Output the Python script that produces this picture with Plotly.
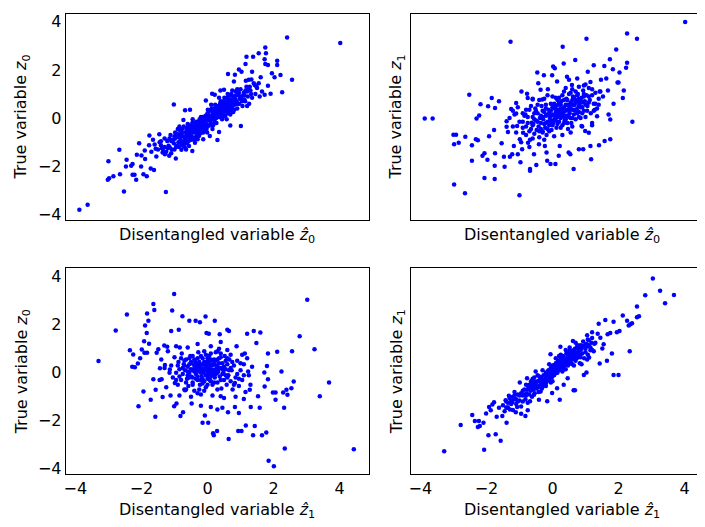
import plotly.graph_objects as go

# ---------------- data ----------------
# top-left: x = disentangled z^0, y = true z0
tl_points = [
    (-3.88,-3.81),(-3.63,-3.60),(-3.02,-2.56),(-3.00,-1.79),(-2.98,-2.50),(-2.85,-2.42),(-2.65,-2.33),(-2.67,-1.32),
    (-2.53,-3.05),(-2.45,-1.73),(-2.47,-2.01),(-2.31,-1.98),(-2.27,-2.35),(-2.21,-2.35),(-2.16,-2.56),(-2.27,-1.91),
    (-2.14,-1.52),(-2.07,-1.05),(-2.01,-2.01),(-1.94,-2.33),(-1.89,-1.70),(-1.84,-2.42),(-1.76,-0.72),(-1.77,-1.13),
    (-1.72,-2.09),(-1.62,-2.16),(-1.57,-1.27),(-1.46,-0.67),(-1.41,-1.13),(-1.36,-1.43),(-1.41,-0.96),(-1.34,-1.37),
    (-1.29,-1.50),(-1.26,-3.07),(-1.16,-1.57),(-1.14,-1.22),(-1.10,-1.46),(-1.02,0.56),(-0.99,-0.86),(-0.96,-1.68),
    (-0.94,-1.16),(-0.89,-0.68),(-0.84,-0.50),(-0.81,-0.95),(-0.79,-1.32),(-0.73,-0.08),(-0.73,-1.16),(-0.68,0.33),
    (-0.65,-0.95),(-0.60,-0.77),(-0.56,-1.16),(-0.53,0.35),(-0.46,-1.37),(-0.38,-1.02),(-0.30,-0.88),(-0.20,-0.61),
    (-0.13,-0.88),(-0.05,0.73),(0.07,-0.74),(0.14,1.01),(0.22,0.97),(0.30,-0.91),(0.35,-0.58),(0.39,1.15),
    (0.44,0.05),(0.50,1.18),(0.62,1.83),(0.69,-0.31),(0.80,1.52),(0.83,1.80),(0.95,2.02),(1.01,-0.33),
    (1.03,1.93),(1.11,0.77),(1.15,2.25),(1.18,2.55),(1.25,1.59),(1.35,1.93),(1.38,2.55),(1.43,1.38),
    (1.48,1.31),(1.55,2.69),(1.58,0.90),(1.61,1.70),(1.73,0.97),(1.75,2.93),(1.77,2.69),(1.73,2.44),
    (1.75,2.25),(1.83,2.21),(1.83,1.34),(1.91,1.01),(1.95,1.86),(2.03,1.70),(2.11,2.38),(2.11,2.21),
    (2.21,1.79),(2.26,1.07),(2.41,3.35),(2.56,1.59),(4.02,3.12),
    (-1.45,-1.0),(-1.38,-1.25),(-1.30,-0.85),(-1.25,-1.4),(-1.22,-0.95),(-1.18,-1.15),(-1.12,-0.7),(-1.08,-1.3),
    (-1.05,-0.9),(-1.02,-1.05),(-0.98,-0.6),(-0.95,-1.2),(-0.92,-0.8),(-0.9,-0.45),(-0.88,-1.0),(-0.85,-0.7),
    (-0.82,-0.9),(-0.8,-0.55),(-0.78,-1.1),(-0.75,-0.75),(-0.72,-0.35),(-0.7,-0.95),(-0.68,-0.6),(-0.66,-0.8),
    (-0.64,-0.45),(-0.62,-1.05),(-0.6,-0.5),(-0.58,-0.7),(-0.56,-0.3),(-0.54,-0.85),(-0.52,-0.55),(-0.5,-0.4),
    (-0.48,-0.75),(-0.46,-0.2),(-0.44,-0.6),(-0.42,-0.45),(-0.4,-0.9),(-0.38,-0.3),(-0.36,-0.55),(-0.34,-0.15),
    (-0.32,-0.7),(-0.3,-0.4),(-0.28,-0.25),(-0.26,-0.5),(-0.24,-0.05),(-0.22,-0.35),(-0.2,-0.6),(-0.18,-0.2),
    (-0.16,-0.4),(-0.14,0.05),(-0.12,-0.3),(-0.1,-0.15),(-0.08,-0.5),(-0.06,0.1),(-0.04,-0.25),(-0.02,-0.05),
    (0.0,-0.35),(0.02,0.15),(0.04,-0.1),(0.06,0.0),(0.08,0.3),(0.1,-0.2),(0.12,0.1),(0.14,-0.05),
    (0.16,0.25),(0.18,0.05),(0.2,0.4),(0.22,-0.15),(0.24,0.2),(0.26,0.0),(0.28,0.35),(0.3,0.15),
    (0.32,0.5),(0.34,0.05),(0.36,0.3),(0.38,0.6),(0.4,0.2),(0.42,0.45),(0.44,-0.05),(0.46,0.35),
    (0.48,0.7),(0.5,0.25),(0.52,0.5),(0.54,0.1),(0.56,0.8),(0.58,0.4),(0.6,0.6),(0.62,0.2),
    (0.64,0.9),(0.66,0.5),(0.68,0.35),(0.7,0.75),(0.72,1.0),(0.74,0.45),(0.76,0.65),(0.78,0.25),
    (0.8,0.9),(0.82,0.55),(0.85,1.1),(0.88,0.7),(0.9,0.4),(0.93,0.95),(0.96,0.6),(1.0,1.2),
    (1.03,0.8),(1.06,0.5),(1.1,1.05),(1.14,0.7),(1.18,1.3),(1.22,0.9),(1.26,0.6),(1.3,1.15),
    (1.35,0.85),(1.4,1.45),(1.45,1.0),
    (-0.35,-0.35),(-0.25,-0.15),(-0.15,-0.25),(-0.05,0.0),(0.05,0.05),(0.15,0.15),(0.25,0.3),(0.35,0.45),
    (0.45,0.2),(0.55,0.55),(-0.55,-0.6),(-0.45,-0.5),(0.1,0.35),(0.2,-0.05),(0.3,0.25),(0.4,0.7),
    (0.6,0.85),(0.7,0.55),(0.0,0.2),(-0.1,-0.4),(-0.2,0.05),(-0.3,-0.6),(-0.6,-0.25),(-0.7,-0.8),
    (-0.8,-0.75),(0.9,1.2),(1.0,0.9),(1.2,1.1),(0.65,0.3),(0.75,1.15),
    (-0.62,-0.4),(-0.5,-0.75),(-0.41,-0.2),(-0.33,-0.5),(-0.27,-0.75),(-0.19,-0.45),(-0.11,-0.05),(-0.03,-0.45),
    (0.03,0.05),(0.09,-0.3),(0.13,0.4),(0.19,0.25),(0.23,0.55),(0.27,-0.2),(0.33,0.35),(0.39,0.05),
    (0.43,0.6),(0.49,0.45),(0.53,0.3),(0.57,0.65),(0.61,1.0),(0.67,0.75),(0.73,0.3),(0.79,0.75),
    (0.87,0.95),(0.97,0.8),(1.08,0.95),(1.16,1.55),(1.28,1.3),(1.5,1.25),(-1.0,-0.75),(-0.9,-1.15),
    (-1.15,-0.85),(-1.3,-1.2),(-0.77,-0.45),(-0.57,-0.95),(-0.47,-0.3),(-0.37,-0.8),(-0.23,-0.55),(-0.13,-0.6),
    (-0.07,-0.2),(0.01,0.35),(0.11,0.55),(0.21,0.15),(0.31,0.05),(0.41,0.45),(0.51,0.85),(0.63,0.5),
    (0.71,0.95),(0.83,0.8),(0.92,0.6),(1.12,0.95),(1.24,1.2),(1.33,1.6),(-1.6,-1.1),(-1.7,-1.4),
    (-1.55,-1.6),(-0.69,-1.2),(0.17,-0.3),(0.47,0.05),
    (-1.2,-1.25),(-1.1,-0.95),(-1.0,-1.3),(-0.93,-0.65),(-0.86,-1.2),(-0.79,-0.65),(-0.71,-1.05),(-0.63,-0.65),
    (-0.55,-0.45),(-0.49,-0.9),(-0.43,-0.35),(-0.37,-0.6),(-0.31,-0.2),(-0.25,-0.7),(-0.21,-0.4),(-0.17,-0.05),
    (-0.09,-0.35),(-0.01,-0.6),(0.05,-0.3),(0.11,0.0),(0.15,-0.45),(0.21,0.3),(0.27,0.5),(0.29,0.05),
    (0.37,0.15),(0.45,0.55),(0.55,0.3),(0.59,0.55),(0.65,0.7),(0.69,0.15),(0.77,0.9),(0.81,0.35),
    (0.89,0.6),(0.95,1.05),(1.05,0.7),(1.15,1.15),(1.32,1.0),(1.55,1.45),(1.65,1.1),(-1.5,-1.3),
    (-1.65,-0.9),(-1.9,-1.35),(-2.0,-1.55),(0.0,0.0),(-0.45,-0.05),(0.35,0.85),(0.58,-0.05),(-0.85,-0.35),
    (1.2,0.5),(-0.65,-1.3),
]

# top-right: x = disentangled z^0, y = true z1
tr_points = [
    (-3.87,-0.02),(-3.63,-0.02),(-3.00,-0.69),(-2.92,-0.69),(-2.98,-1.09),(-2.84,-1.02),(-2.98,-2.76),(-2.65,-3.12),
    (-2.64,-0.78),(-2.52,0.97),(-2.44,-1.13),(-2.44,-1.77),(-2.32,-0.88),(-2.26,-0.92),(-2.30,-0.02),(-2.22,0.11),
    (-2.18,0.57),(-2.12,-1.57),(-2.06,-1.46),(-2.06,-2.49),(-1.97,-1.73),(-1.95,0.49),(-1.92,-0.75),(-1.84,0.84),
    (-1.77,-0.50),(-1.74,0.42),(-1.74,-1.46),(-1.75,-1.98),(-1.75,-2.53),(-1.62,0.70),(-1.54,-1.05),(-1.47,-1.61),
    (-1.45,-2.02),(-1.39,-0.36),(-1.39,-0.13),(-1.35,-0.58),(-1.27,3.17),(-1.29,-1.61),(-1.25,0.38),(-1.22,-1.50),
    (-1.17,-1.16),(-1.10,0.19),(-1.10,0.63),(-1.07,-0.33),(-1.05,-1.50),(-0.99,-0.88),(-0.97,-1.84),(-0.94,1.11),
    (-0.92,-1.29),(-0.89,-0.61),(-1.00,-3.21),(-0.82,0.15),(-0.77,1.01),(-0.75,0.83),(-0.74,-1.02),(-0.68,-2.19),
    (-0.68,-2.12),(-0.63,-0.19),(-0.60,0.77),(-0.56,-1.50),(-0.49,-1.95),(-0.46,1.89),(-0.43,1.45),(-0.41,-1.09),
    (-0.36,1.18),(-0.31,0.77),(-0.26,1.78),(-0.23,-1.16),(-0.18,-1.43),(-0.16,-1.77),(-0.14,1.20),(-0.06,-1.91),
    (-0.01,1.78),(0.02,2.14),(0.07,2.07),(0.09,-1.91),(0.14,1.52),(0.19,-1.57),(0.22,-1.16),(0.31,2.96),
    (0.34,2.27),(0.44,1.72),(0.49,-1.43),(0.50,1.59),(0.54,-1.50),(0.59,1.38),(0.64,-2.12),(0.69,2.41),
    (0.75,1.65),(0.80,-1.29),(0.88,-0.33),(0.93,-1.29),(0.99,-0.54),(1.03,3.30),(1.07,1.93),(1.10,-0.61),
    (1.15,-1.16),(1.17,-1.71),(1.20,-0.30),(1.25,2.20),(1.28,0.35),(1.35,0.08),(1.41,-1.13),(1.43,1.11),
    (1.47,1.59),(1.53,0.90),(1.57,2.16),(1.58,-0.95),(1.63,1.65),(1.68,1.15),(1.70,0.15),(1.74,2.44),
    (1.75,-0.88),(1.75,-0.06),(1.83,2.03),(1.85,0.60),(1.93,2.85),(1.97,1.48),(2.00,1.48),(2.03,1.89),
    (2.13,0.83),(2.16,1.15),(2.23,2.09),(2.26,2.30),(2.26,3.51),(2.42,-0.15),(2.56,3.30),(4.02,3.99),
    (-0.9,-0.4),(-0.85,0.1),(-0.8,-0.7),(-0.75,-0.2),(-0.7,0.35),(-0.68,-0.9),(-0.65,-0.45),(-0.6,0.05),
    (-0.58,-0.25),(-0.55,-0.65),(-0.52,0.4),(-0.5,-0.1),(-0.48,-0.5),(-0.45,0.2),(-0.42,-0.35),(-0.4,-0.8),
    (-0.38,0.0),(-0.35,-0.2),(-0.33,0.5),(-0.3,-0.55),(-0.28,-0.05),(-0.25,0.25),(-0.22,-0.4),(-0.2,0.1),
    (-0.18,-0.7),(-0.15,-0.15),(-0.12,0.35),(-0.1,-0.3),(-0.08,0.0),(-0.05,0.6),(-0.03,-0.5),(0.0,0.15),
    (0.02,-0.2),(0.05,0.4),(0.07,-0.05),(0.1,0.25),(0.12,-0.4),(0.15,0.05),(0.17,0.55),(0.2,-0.15),
    (0.22,0.3),(0.25,0.0),(0.27,0.7),(0.3,-0.3),(0.32,0.2),(0.35,0.45),(0.37,-0.1),(0.4,0.3),
    (0.42,0.8),(0.45,0.1),(0.47,-0.45),(0.5,0.5),(0.52,0.2),(0.55,0.65),(0.57,-0.2),(0.6,0.35),
    (0.62,0.9),(0.65,0.15),(0.67,0.55),(0.7,-0.05),(0.72,0.75),(0.75,0.4),(0.77,1.0),(0.8,0.25),
    (0.82,0.6),(0.85,0.0),(0.88,0.85),(0.9,0.45),(0.93,1.15),(0.95,0.3),(0.98,0.7),(1.0,0.05),
    (1.03,0.95),(1.06,0.5),(1.1,1.25),(1.13,0.75),(1.16,0.2),(1.2,0.95),(1.25,0.6),(1.3,1.05),
    (1.35,0.4),(1.4,0.8),(-1.0,-0.15),(-1.05,0.45),(-1.1,-0.6),(-1.15,0.15),(-1.2,-0.35),(-1.3,0.0),
    (-0.95,-1.0),(-0.7,-1.2),(-0.4,0.75),(-0.6,0.8),(-0.25,-0.9),(0.05,-0.75),(0.3,-0.7),(0.55,-0.6),
    (0.1,0.85),(-0.15,0.95),(0.35,1.1),(0.6,1.2),(0.9,-0.35),(1.2,-0.2),(0.45,0.55),(0.25,0.4),
    (0.15,0.2),(-0.05,0.3),(0.0,-0.1),(0.2,0.65),(0.4,-0.05),(0.65,0.35),(0.75,0.7),(0.8,1.3),
    (1.0,1.4),(1.15,1.5),(0.5,1.0),(0.3,0.95),(-0.2,0.55),(-0.5,0.3),(-0.8,0.35),(-0.3,-0.6),
    (-0.6,-0.3),(-0.45,0.55),(-0.35,0.1),(-0.25,-0.25),(-0.15,0.15),(-0.05,-0.15),(0.05,0.1),(0.1,-0.1),
    (0.15,0.35),(0.2,0.1),(0.25,0.55),(0.3,0.3),(0.35,0.05),(0.4,0.55),(0.45,0.35),(0.5,0.05),
    (0.55,0.4),(0.6,0.75),(0.65,0.55),(0.7,0.3),(0.75,0.95),(0.8,0.5),(0.85,0.75),(0.9,0.2),
    (0.95,0.9),(1.05,0.3),(1.1,0.65),(-0.55,-0.05),(-0.75,0.05),(-0.9,0.2),(-0.2,0.4),(0.0,0.45),
    (0.2,0.85),(-0.1,-0.55),(0.15,-0.25),(0.45,-0.2),(0.6,0.0),(0.8,0.05),(1.25,0.3),(1.45,1.1),
    (0.35,0.75),(0.55,1.05),(-0.35,-0.45),(-0.65,0.5),(0.05,0.6),(0.7,1.1),(0.95,1.0),(1.3,0.6),
    (-0.3,0.3),(0.25,-0.4),
    (-0.7,-0.55),(-0.55,0.2),(-0.4,-0.55),(-0.3,0.05),(-0.2,-0.2),(-0.1,0.2),(0.0,-0.3),(0.1,0.5),
    (0.2,0.35),(0.3,0.1),(0.4,0.1),(0.5,0.3),(0.6,0.55),(0.7,0.65),(0.8,0.8),(0.9,0.65),
    (1.0,0.55),(1.1,0.9),(0.25,0.2),(0.45,0.75),(0.65,0.85),(0.85,0.45),(-0.15,-0.45),(-0.45,-0.15),
    (0.55,0.0),(0.35,-0.2),(0.15,0.75),(-0.05,0.1),(0.75,0.2),(1.2,1.2),(-0.9,-0.15),(-1.2,0.3),
    (-0.6,-0.85),(0.0,0.9),(0.4,1.25),(0.95,1.35),(-0.25,0.8),(1.4,0.55),(0.6,-0.35),(-0.8,-0.35),
]

# bottom-left: x = disentangled z^1, y = true z0
bl_points = [
    (-3.30,0.49),(-2.78,1.76),(-2.44,2.42),(-2.35,0.94),(-2.25,0.76),(-2.28,0.25),(-2.20,0.23),(-2.09,-1.39),
    (-2.11,0.39),(-2.04,0.60),(-1.99,0.97),(-1.94,-0.78),(-1.92,1.31),(-1.89,1.97),(-1.83,2.47),(-1.79,2.17),
    (-1.84,1.65),(-1.91,0.83),(-1.83,0.83),(-1.77,1.21),(-1.72,-1.12),(-1.64,2.86),(-1.61,2.61),(-1.64,-0.27),
    (-1.58,-1.83),(-1.57,-0.71),(-1.54,0.83),(-1.49,0.98),(-1.44,0.19),(-1.39,-0.27),(-1.36,-1.01),(-1.31,1.14),
    (-1.29,0.32),(-1.22,1.08),(-1.14,0.14),(-1.12,-0.95),(-1.10,1.74),(-1.07,2.59),(-1.01,3.28),(-1.01,-1.39),
    (-0.99,-0.43),(-0.94,-1.28),(-0.87,1.79),(-0.84,1.05),(-0.82,-1.80),(-0.76,2.35),(-0.74,-1.64),(-0.68,-0.73),
    (-0.55,2.17),(-0.48,-1.28),(-0.45,-0.50),(-0.36,2.17),(-0.23,2.10),(-0.20,-1.37),(-0.15,-2.08),(-0.08,-1.78),
    (-0.06,2.34),(-0.03,1.65),(0.02,-2.08),(0.04,1.62),(0.10,-1.42),(0.17,-2.52),(0.19,-2.60),(0.22,2.17),
    (0.29,-2.42),(0.30,-1.53),(0.37,1.60),(0.40,1.28),(0.40,-0.98),(0.45,-1.46),(0.60,1.79),(0.65,1.74),
    (0.64,-2.76),(0.62,-1.64),(0.83,-1.42),(0.83,-0.43),(0.88,1.10),(0.93,-2.42),(0.95,-1.67),(1.03,-2.42),
    (1.10,-1.09),(1.13,0.80),(1.16,-2.19),(1.20,1.62),(1.23,0.05),(1.28,-0.71),(1.31,-1.42),(1.38,-2.60),
    (1.40,1.74),(1.43,-2.22),(1.48,1.24),(1.53,-0.98),(1.58,-1.46),(1.60,1.68),(1.65,-2.60),(1.72,0.01),
    (1.73,-0.57),(1.78,-2.49),(1.80,0.28),(1.83,0.80),(1.83,-0.27),(1.85,-3.66),(1.98,-0.82),(2.01,-3.89),
    (2.06,-0.82),(2.06,-1.12),(2.11,0.87),(2.24,0.05),(2.29,-0.82),(2.32,-1.46),(2.34,-3.15),(2.39,-0.71),
    (2.42,-0.91),(2.54,-0.64),(2.56,0.90),(2.61,-0.36),(2.79,1.52),(3.02,3.04),(3.24,0.98),(3.40,-0.98),
    (3.68,-0.40),(4.43,-3.18),
    (-1.1,0.3),(-1.05,-0.2),(-1.0,0.65),(-0.95,0.0),(-0.9,-0.5),(-0.88,0.45),(-0.85,0.15),(-0.8,-0.3),
    (-0.78,0.8),(-0.75,-0.05),(-0.72,0.35),(-0.7,-0.7),(-0.68,0.1),(-0.65,0.55),(-0.62,-0.25),(-0.6,0.25),
    (-0.58,-0.55),(-0.55,0.0),(-0.52,0.7),(-0.5,-0.15),(-0.48,0.4),(-0.45,-0.4),(-0.42,0.15),(-0.4,-0.75),
    (-0.38,0.5),(-0.35,-0.05),(-0.33,0.25),(-0.3,-0.3),(-0.28,0.85),(-0.25,0.05),(-0.23,-0.5),(-0.2,0.3),
    (-0.18,-0.15),(-0.15,0.6),(-0.12,0.0),(-0.1,-0.35),(-0.08,0.2),(-0.05,-0.6),(-0.03,0.45),(0.0,-0.1),
    (0.02,0.15),(0.05,0.7),(0.07,-0.3),(0.1,0.35),(0.12,0.0),(0.15,-0.5),(0.17,0.5),(0.2,0.1),
    (0.22,-0.2),(0.25,0.85),(0.27,0.3),(0.3,-0.4),(0.32,0.05),(0.35,0.6),(0.37,-0.15),(0.4,0.2),
    (0.42,-0.65),(0.45,0.4),(0.48,0.0),(0.5,-0.3),(0.52,0.7),(0.55,0.15),(0.58,-0.5),(0.6,0.35),
    (0.63,-0.1),(0.66,0.55),(0.7,-0.35),(0.73,0.1),(0.76,-0.7),(0.8,0.3),(0.85,-0.2),(0.9,0.5),
    (0.95,-0.55),(1.0,0.1),(1.05,-0.3),(1.1,0.35),(1.15,-0.8),(1.2,0.6),(1.25,-0.1),(1.3,-0.5),
    (-1.2,0.9),(-1.25,-0.6),(-1.3,0.2),(-1.4,0.55),(-1.45,-0.3),(-0.95,1.1),(-0.6,1.05),(-0.3,1.2),
    (0.1,1.1),(0.35,1.0),(0.6,0.95),(-0.5,-1.0),(-0.2,-0.9),(0.15,-0.95),(0.5,-1.05),(0.85,-1.0),
    (-0.85,-0.95),(-0.1,0.9),(0.0,0.45),(-0.25,0.45),(0.2,0.55),(-0.4,0.05),(0.3,0.25),(-0.15,-0.25),
    (0.05,0.25),(-0.3,0.6),(0.45,-0.05),(-0.55,0.35),(0.65,0.1),(-0.7,0.5),(-0.05,-0.1),(0.1,-0.15),
    (-0.2,0.15),(0.25,-0.05),(0.0,0.6),(-0.45,0.7),(0.4,0.8),(0.7,0.75),(1.05,0.75),(1.35,0.25),
    (-0.6,0.05),(-0.5,0.45),(-0.4,0.3),(-0.35,-0.25),(-0.3,0.1),(-0.25,0.25),(-0.2,-0.3),(-0.15,0.35),
    (-0.1,0.1),(-0.05,0.3),(0.0,0.05),(0.05,-0.25),(0.1,0.15),(0.15,0.3),(0.2,-0.05),(0.25,0.15),
    (0.3,0.55),(0.35,0.2),(0.4,-0.3),(0.5,0.25),(-0.45,0.1),(-0.65,-0.4),(-0.75,0.2),(-0.9,0.3),
    (-0.05,0.75),(0.1,0.55),(-0.25,-0.7),(0.0,-0.5),(0.3,-0.7),(0.55,0.5),(-0.15,0.15),(0.05,0.0),
    (-0.35,0.4),(0.15,-0.1),(-0.55,-0.2),(0.6,-0.2),(0.75,0.45),(-0.85,-0.15),(0.9,-0.05),(1.1,-0.1),
    (-0.7,0.3),(-0.6,-0.1),(-0.5,0.15),(-0.45,-0.2),(-0.4,0.55),(-0.3,-0.15),(-0.25,0.35),(-0.2,0.0),
    (-0.1,0.45),(-0.05,0.15),(0.0,0.3),(0.05,0.5),(0.1,-0.35),(0.15,0.1),(0.2,0.35),(0.25,0.5),
    (0.3,0.0),(0.35,0.4),(0.45,0.15),(0.55,-0.1),(-0.15,-0.45),(-0.35,0.15),(0.0,-0.25),(0.2,-0.4),
    (-0.8,0.6),(-0.95,-0.3),(0.7,0.2),(0.8,-0.5),(-0.55,0.6),(0.4,0.65),(-0.2,0.7),(0.1,0.8),
    (-0.65,-0.7),(1.0,0.4),(0.95,-0.25),(-1.15,0.0),(-0.3,-0.85),(0.3,0.9),(-0.1,-0.75),(0.6,0.6),
]

# bottom-right: x = disentangled z^1, y = true z1
br_points = [
    (-3.28,-3.27),(-2.78,-2.17),(-2.43,-1.76),(-2.35,-2.01),(-2.26,-2.26),(-2.20,-2.22),(-2.23,-2.01),(-2.07,-3.20),
    (-2.09,-2.08),(-2.01,-1.69),(-1.94,-2.60),(-1.92,-1.42),(-1.87,-1.56),(-1.82,-1.32),(-1.77,-1.23),(-1.72,-2.56),
    (-1.69,-1.83),(-1.57,-2.83),(-1.62,-1.46),(-1.52,-1.80),(-1.42,-1.14),(-1.39,-2.08),(-1.37,-1.46),(-1.32,-0.96),
    (-1.29,-1.53),(-1.22,-1.23),(-1.15,-0.96),(-1.11,-1.64),(-1.07,-1.42),(-0.99,-0.40),(-0.95,-1.71),(-0.82,-1.80),
    (-0.77,-0.23),(-0.75,-1.56),(-0.68,-1.19),(-0.56,-0.91),(-0.51,0.05),(-0.41,-1.12),(-0.36,-0.78),(-0.24,-0.30),
    (-0.16,-1.19),(-0.06,0.77),(-0.01,-0.84),(0.14,-0.64),(0.22,-1.12),(0.24,1.08),(0.29,0.19),(0.34,-0.50),
    (0.46,-0.23),(0.52,1.05),(0.62,1.32),(0.64,-0.73),(0.68,-0.73),(0.77,1.15),(0.83,0.73),(0.88,0.35),
    (0.95,-0.09),(1.03,0.01),(1.05,1.56),(1.07,1.38),(1.11,0.64),(1.15,0.94),(1.20,1.69),(1.27,1.21),
    (1.37,1.62),(1.40,2.04),(1.43,0.39),(1.45,1.46),(1.51,1.01),(1.55,1.19),(1.60,2.20),(1.65,0.50),
    (1.67,1.60),(1.75,1.65),(1.80,0.80),(1.85,2.12),(1.85,-0.09),(1.95,1.69),(2.00,-0.09),(2.03,1.74),
    (2.13,2.38),(2.26,2.17),(2.31,1.97),(2.34,0.90),(2.36,2.02),(2.41,2.06),(2.56,2.31),(2.56,2.76),
    (2.62,2.35),(2.81,3.23),(3.04,3.92),(3.26,3.41),(3.41,2.89),(3.68,3.24),(4.45,3.11),
    (-1.5,-1.35),(-1.45,-1.6),(-1.4,-1.2),(-1.35,-1.45),(-1.3,-1.05),(-1.25,-1.3),(-1.2,-1.55),(-1.15,-1.1),
    (-1.1,-1.3),(-1.05,-0.9),(-1.0,-1.15),(-0.95,-1.4),(-0.9,-0.95),(-0.85,-0.7),(-0.82,-1.1),(-0.78,-0.85),
    (-0.75,-1.25),(-0.72,-0.6),(-0.7,-0.9),(-0.66,-0.75),(-0.62,-1.0),(-0.6,-0.5),(-0.57,-0.7),(-0.54,-0.85),
    (-0.5,-0.45),(-0.48,-0.65),(-0.45,-0.35),(-0.42,-0.8),(-0.4,-0.55),(-0.37,-0.25),(-0.34,-0.45),(-0.32,-0.65),
    (-0.3,-0.3),(-0.27,-0.1),(-0.25,-0.5),(-0.22,-0.25),(-0.2,0.0),(-0.17,-0.35),(-0.15,-0.15),(-0.12,0.1),
    (-0.1,-0.3),(-0.07,-0.05),(-0.05,0.2),(-0.02,-0.2),(0.0,0.05),(0.03,0.3),(0.05,-0.1),(0.08,0.15),
    (0.1,0.4),(0.12,0.0),(0.15,0.25),(0.17,0.5),(0.2,0.1),(0.22,0.35),(0.25,0.6),(0.27,0.2),
    (0.3,0.45),(0.32,0.7),(0.35,0.3),(0.37,0.55),(0.4,0.15),(0.42,0.8),(0.45,0.5),(0.47,0.3),
    (0.5,0.65),(0.52,0.95),(0.55,0.45),(0.57,0.7),(0.6,0.35),(0.62,0.85),(0.65,0.6),(0.68,1.0),
    (0.7,0.5),(0.72,0.75),(0.75,1.1),(0.78,0.65),(0.8,0.9),(0.83,0.4),(0.86,1.15),(0.9,0.8),
    (0.93,1.3),(0.96,0.6),(1.0,1.0),(1.03,1.2),(1.07,0.75),(1.1,1.35),(1.15,1.05),(1.2,1.45),
    (1.25,0.9),(1.3,1.25),(-0.35,-0.2),(-0.15,0.05),(0.05,0.1),(0.25,0.4),(0.45,0.35),(-0.55,-0.55),
    (-0.25,-0.35),(0.15,0.0),(0.35,0.6),(0.55,0.8),(-0.05,-0.4),(0.1,0.6),(-0.45,-0.1),(0.65,0.3),
    (-0.65,-0.35),(0.85,0.95),(-0.8,-0.5),(0.3,0.05),(-0.1,0.35),(0.7,1.25),(-0.9,-1.2),(1.05,0.55),
    (-1.15,-0.8),(1.2,0.95),(-0.3,0.1),(0.4,0.95),(0.0,-0.35),(-0.6,-0.25),(0.2,0.7),(-0.2,-0.55),
    (-0.55,-0.35),(-0.45,-0.6),(-0.35,-0.4),(-0.28,-0.55),(-0.18,-0.1),(-0.12,-0.2),(-0.05,0.05),(0.02,0.1),
    (0.08,0.3),(0.13,0.2),(0.18,0.35),(0.23,0.15),(0.28,0.55),(0.33,0.4),(0.38,0.35),(0.43,0.6),
    (0.48,0.55),(0.53,0.4),(0.58,0.9),(0.63,0.65),(0.68,0.8),(0.73,0.6),(0.78,1.0),(0.88,1.0),
    (0.98,1.15),(1.08,1.1),(1.18,1.25),(-0.65,-0.6),(-0.75,-0.7),(-0.85,-0.9),(-0.95,-0.85),(-1.05,-1.2),
    (-1.2,-1.0),(-1.35,-1.25),(-0.4,-0.15),(0.1,0.05),(0.3,0.25),(0.5,0.85),(-0.2,-0.45),(0.0,0.3),
    (-0.6,-0.7),(-0.5,-0.6),(-0.4,-0.35),(-0.3,-0.45),(-0.2,-0.2),(-0.1,-0.1),(0.0,-0.1),(0.05,0.25),
    (0.1,0.2),(0.15,0.4),(0.2,0.45),(0.25,0.25),(0.3,0.6),(0.35,0.45),(0.4,0.55),(0.45,0.75),
    (0.5,0.5),(0.55,0.6),(0.6,0.7),(0.65,0.95),(0.7,0.85),(0.75,0.8),(0.8,1.05),(0.9,1.1),
    (1.0,0.85),(1.1,1.15),(-0.7,-0.5),(-0.8,-0.95),(-0.9,-0.75),(-1.0,-0.95),(-1.1,-1.1),(-1.25,-1.15),
    (-1.4,-1.45),(-0.15,-0.3),(0.35,0.15),(0.6,0.55),(-0.35,-0.6),(0.25,0.75),(-0.55,-0.2),(0.85,0.65),
]

tick_vals = [-4, -2, 0, 2, 4]
x_titles = ["Disentangled variable <i>ẑ</i><sub>0</sub>", "Disentangled variable <i>ẑ</i><sub>1</sub>"]
y_titles = ["True variable <i>z</i><sub>0</sub>", "True variable <i>z</i><sub>1</sub>"]

# ---------------- figure ----------------
PAGE_W, PAGE_H = 705, 527
OFF = 8  # default body margin of the html page
W, H = PAGE_W - OFF, PAGE_H - OFF
FONT = "DejaVu Sans"

def fx(px):  # page pixel x -> paper fraction
    return (px - OFF) / W

def fy(py):  # page pixel y (from top) -> paper fraction (from bottom)
    return (PAGE_H - py) / H

fig = go.Figure()
panels = [
    (tl_points, "x", "y"),
    (tr_points, "x2", "y2"),
    (bl_points, "x3", "y3"),
    (br_points, "x4", "y4"),
]
for pts, xa, ya in panels:
    fig.add_trace(go.Scatter(
        x=[p[0] for p in pts], y=[p[1] for p in pts],
        mode="markers", xaxis=xa, yaxis=ya,
        marker=dict(color="#0000ff", size=4.5, line=dict(width=0)),
        hoverinfo="skip", showlegend=False,
    ))

left_dom = [fx(64), fx(367.7)]
right_dom = [fx(410), 1.0]
top_dom = [fy(220.7), fy(12.7)]
bot_dom = [fy(477.7), fy(270)]
x_range_left = [-4.29, 4.88]
x_range_right = [-4.29, 4.62]
y_range = [-4.22, 4.34]

def xaxis(dom, rng, anchor, show_labels):
    return dict(domain=dom, range=rng, anchor=anchor, tickvals=tick_vals,
                showticklabels=show_labels, showgrid=False, zeroline=False,
                showline=True, mirror=True, linecolor="#000000", linewidth=1.2,
                ticks="", tickfont=dict(family=FONT, size=16, color="#000000"))

def yaxis(dom, anchor, show_labels, mirror):
    return dict(domain=dom, range=y_range, anchor=anchor, tickvals=tick_vals,
                showticklabels=show_labels, showgrid=False, zeroline=False,
                showline=True, mirror=mirror, linecolor="#000000", linewidth=1.2,
                ticks="", tickfont=dict(family=FONT, size=16, color="#000000"))

fig.update_layout(
    width=W, height=H,
    margin=dict(l=0, r=0, t=0, b=0),
    paper_bgcolor="white", plot_bgcolor="white",
    font=dict(family=FONT, size=16, color="#000000"),
    xaxis=xaxis(left_dom, x_range_left, "y", False),
    yaxis=yaxis(top_dom, "x", True, True),
    xaxis2=xaxis(right_dom, x_range_right, "y2", False),
    yaxis2=yaxis(top_dom, "x2", False, False),
    xaxis3=xaxis(left_dom, x_range_left, "y3", True),
    yaxis3=yaxis(bot_dom, "x3", True, True),
    xaxis4=xaxis(right_dom, x_range_right, "y4", True),
    yaxis4=yaxis(bot_dom, "x4", False, False),
)

xt_y = [fy(237), fy(514)]
col_cx = [fx(215.8), fx(561.9)]
yt_x = [fx(20), fx(396)]
row_cy = [fy(116.7), fy(373.9)]
ann = []
for r in range(2):
    for c in range(2):
        ann.append(dict(text=x_titles[r], x=col_cx[c], y=xt_y[r], xref="paper", yref="paper",
                        showarrow=False, xanchor="center", yanchor="middle",
                        font=dict(family=FONT, size=16, color="#000000")))
        ann.append(dict(text=y_titles[c], x=yt_x[c], y=row_cy[r], xref="paper", yref="paper",
                        showarrow=False, xanchor="center", yanchor="middle", textangle=-90,
                        font=dict(family=FONT, size=16, color="#000000")))
fig.update_layout(annotations=ann)

fig.write_html("out.html")
